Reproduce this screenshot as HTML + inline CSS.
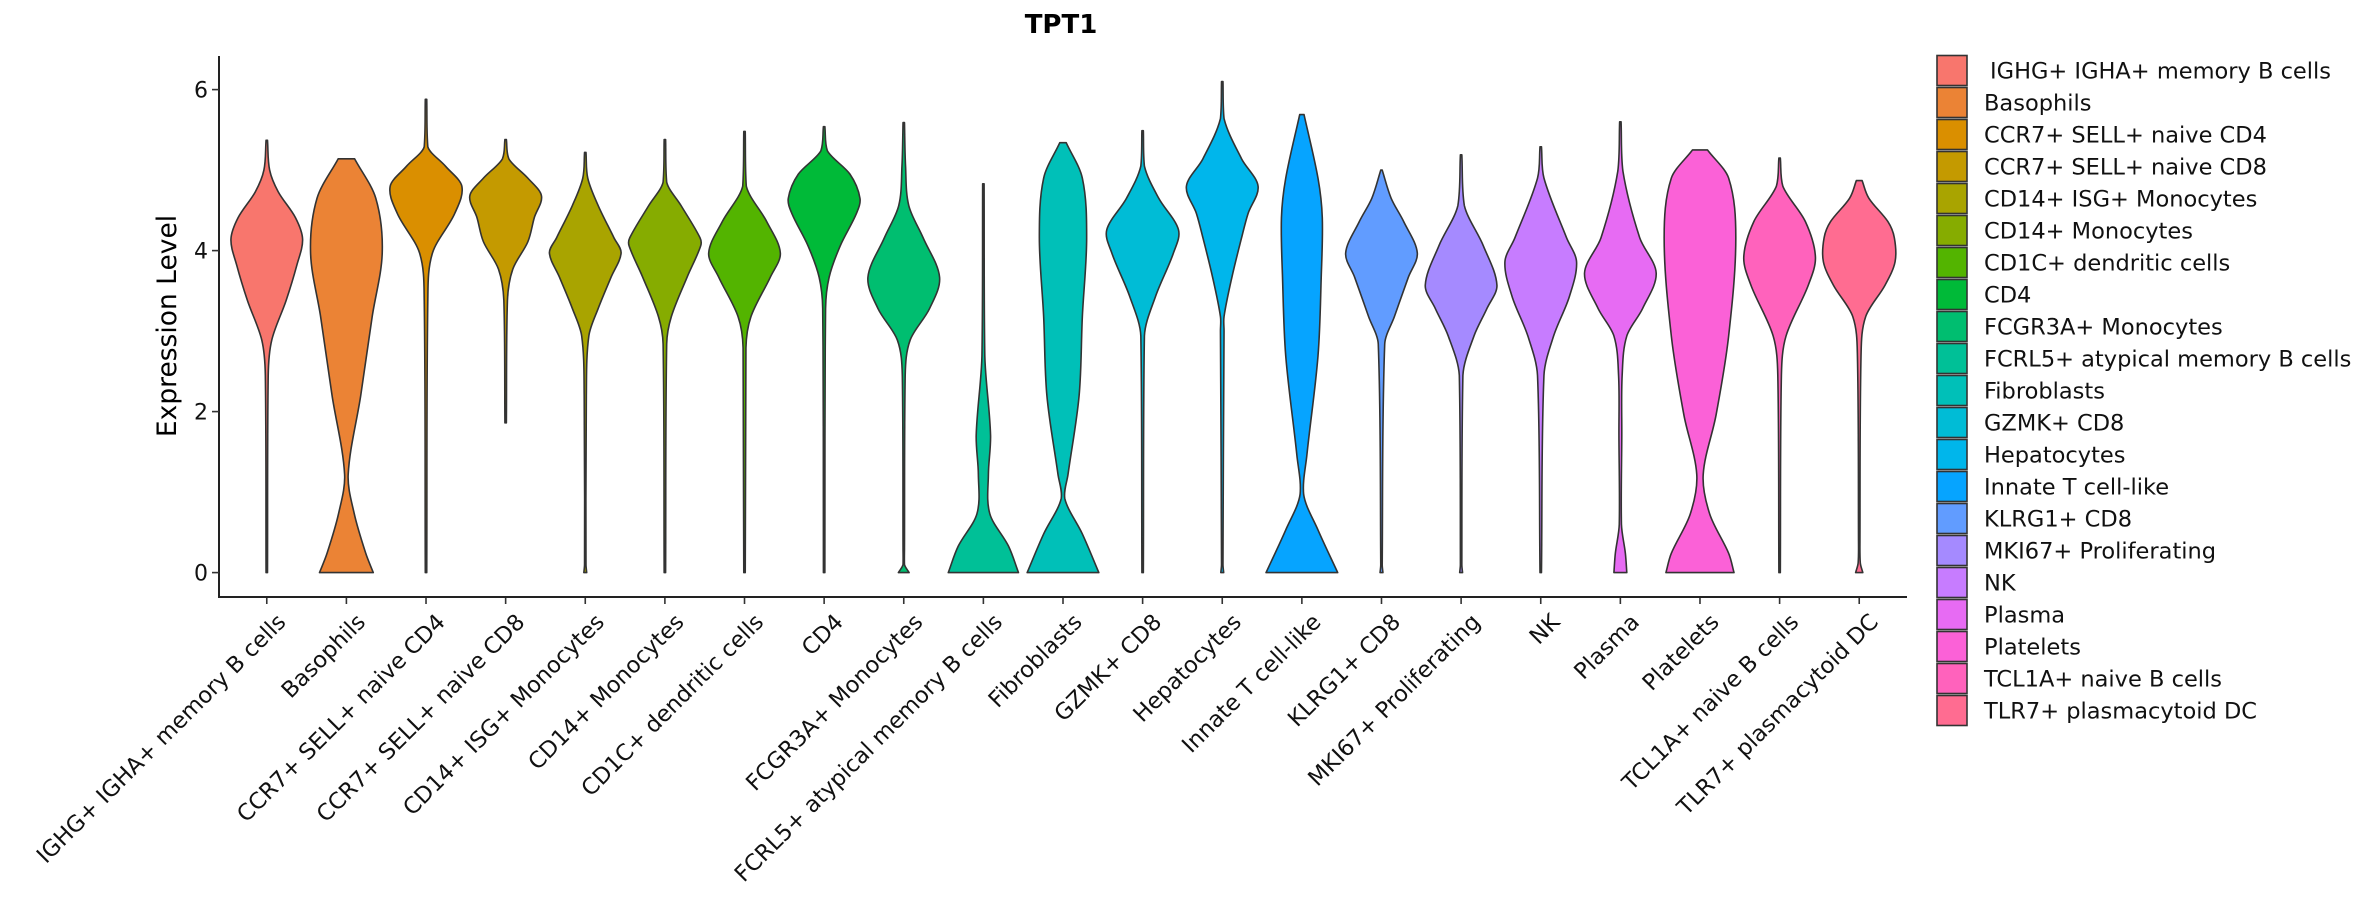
<!DOCTYPE html>
<html><head><meta charset="utf-8"><style>
html,body{margin:0;padding:0;background:#fff;}
svg{display:block;font-family:"DejaVu Sans","Liberation Sans",sans-serif;}
</style></head><body>
<svg id="chart" width="2362" height="900" viewBox="0 0 2362 900">
<text x="1061" y="33" text-anchor="middle" font-size="26" font-weight="bold">TPT1</text>
<text transform="translate(176,326) rotate(-90)" text-anchor="middle" font-size="26.5">Expression Level</text>
<g id="plot"></g>
<g id="legend"></g>
</svg>
<script>
const categories = ["IGHG+ IGHA+ memory B cells","Basophils","CCR7+ SELL+ naive CD4","CCR7+ SELL+ naive CD8","CD14+ ISG+ Monocytes","CD14+ Monocytes","CD1C+ dendritic cells","CD4","FCGR3A+ Monocytes","FCRL5+ atypical memory B cells","Fibroblasts","GZMK+ CD8","Hepatocytes","Innate T cell-like","KLRG1+ CD8","MKI67+ Proliferating","NK","Plasma","Platelets","TCL1A+ naive B cells","TLR7+ plasmacytoid DC"];
const colors = ["#F8766D","#EB8335","#DA8F00","#C49A00","#A9A400","#86AC00","#53B400","#00BA38","#00BE70","#00C097","#00C0B8","#00BCD6","#00B6EB","#06A4FF","#619CFF","#A58AFF","#C77CFF","#E76BF3","#FB61D7","#FF62BC","#FF6C91"];
const yTicks = [0,2,4,6];
// expression levels (knots) and relative densities for each violin
const violinY = [
 [0,2.45,2.89,3.38,3.82,4.14,4.41,4.73,5.0,5.37],
 [0,0.24,0.73,1.22,2.2,3.18,3.97,4.65,5.14],
 [0,3.38,3.97,4.46,4.8,5.05,5.29,5.88],
 [1.86,3.38,3.77,4.11,4.41,4.68,4.9,5.14,5.38],
 [0,0.1,2.2,2.94,3.28,3.67,3.97,4.16,4.56,4.9,5.22],
 [0,2.84,3.18,3.67,4.06,4.16,4.56,4.85,5.38],
 [0,2.79,3.18,3.67,3.97,4.36,4.8,5.48],
 [0,3.28,3.67,4.06,4.46,4.65,4.95,5.24,5.54],
 [0,0.1,0.3,2.45,2.89,3.28,3.67,4.16,4.56,5.05,5.59],
 [0,0.33,0.73,1.22,1.71,2.69,4.83],
 [0,0.48,0.92,1.22,2.2,3.18,4.16,4.9,5.34],
 [0,2.94,3.43,3.97,4.26,4.65,5.05,5.49],
 [0,0.1,3.0,3.18,3.67,4.16,4.46,4.8,5.14,5.64,6.1],
 [0,0.53,0.97,1.46,2.69,3.67,4.41,4.9,5.69],
 [0,0.1,2.84,3.18,3.67,3.97,4.36,4.65,5.0],
 [0,0.1,2.45,2.94,3.28,3.57,4.06,4.56,5.19],
 [0,2.45,2.94,3.43,3.86,4.16,4.9,5.29],
 [0,0.24,0.6,1.7,2.45,2.94,3.28,3.72,4.16,4.99,5.6],
 [0,0.24,0.73,1.22,1.96,2.94,4.16,4.9,5.25],
 [0,2.45,2.94,3.57,3.92,4.36,4.8,5.15],
 [0,0.12,0.4,2.69,3.18,3.57,3.86,4.16,4.36,4.65,4.87]
];
const violinW = [
 [0.02,0.04,0.14,0.54,0.84,1.0,0.8,0.32,0.08,0.02],
 [0.75,0.54,0.22,0.05,0.4,0.72,1.0,0.82,0.23],
 [0.02,0.05,0.18,0.8,1.0,0.54,0.05,0.02],
 [0.02,0.05,0.2,0.62,0.8,1.0,0.62,0.09,0.02],
 [0.04,0.02,0.03,0.1,0.36,0.72,1.0,0.8,0.36,0.07,0.02],
 [0.02,0.05,0.18,0.62,1.0,0.98,0.45,0.05,0.02],
 [0.02,0.04,0.18,0.72,1.0,0.62,0.05,0.02],
 [0.02,0.04,0.14,0.45,0.9,1.0,0.72,0.09,0.02],
 [0.15,0.02,0.02,0.04,0.18,0.72,1.0,0.54,0.14,0.05,0.02],
 [0.98,0.7,0.18,0.14,0.2,0.04,0.02],
 [1.0,0.54,0.05,0.14,0.45,0.54,0.66,0.54,0.09],
 [0.02,0.05,0.36,0.86,1.0,0.45,0.05,0.02],
 [0.04,0.02,0.05,0.05,0.27,0.54,0.72,1.0,0.54,0.05,0.02],
 [1.0,0.45,0.05,0.14,0.45,0.54,0.57,0.45,0.06],
 [0.04,0.02,0.09,0.36,0.75,1.0,0.62,0.27,0.02],
 [0.04,0.02,0.05,0.36,0.72,1.0,0.62,0.09,0.02],
 [0.02,0.09,0.36,0.8,1.0,0.72,0.09,0.02],
 [0.18,0.14,0.03,0.04,0.05,0.18,0.62,1.0,0.54,0.07,0.02],
 [0.95,0.8,0.27,0.09,0.45,0.8,1.0,0.8,0.21],
 [0.02,0.05,0.18,0.8,1.0,0.72,0.09,0.02],
 [0.1,0.03,0.02,0.05,0.18,0.72,1.0,0.98,0.8,0.27,0.08]
];
const NS="http://www.w3.org/2000/svg";
const X0=219, X1=1907, Y0=572.6, YUNIT=80.5, AXY=597, AXTOP=56;
const step=(X1-X0)/(categories.length-1+1.2);
function xScale(i){return X0+(i+0.6)*step;}
function yScale(v){return Y0-v*YUNIT;}
const halfMax=step*0.45;
const plot=document.getElementById('plot');
function mk(tag,attrs,parent){const e=document.createElementNS(NS,tag);for(const k in attrs)e.setAttribute(k,attrs[k]);parent.appendChild(e);return e;}
function crPath(pts,cx,sign,first){
 let d=first?`M${pts[0][0].toFixed(2)},${pts[0][1].toFixed(2)}`:'';
 const cl=x=>sign>0?Math.max(cx+0.5,x):Math.min(cx-0.5,x);
 for(let i=0;i<pts.length-1;i++){
  const p0=pts[Math.max(0,i-1)],p1=pts[i],p2=pts[i+1],p3=pts[Math.min(pts.length-1,i+2)];
  const dy=p2[1]-p1[1];
  const s1=(p2[0]-p0[0])/((p2[1]-p0[1])||1), s2=(p3[0]-p1[0])/((p3[1]-p1[1])||1);
  const c1=[cl(p1[0]+s1*dy/3),p1[1]+dy/3];
  const c2=[cl(p2[0]-s2*dy/3),p2[1]-dy/3];
  d+=` C${c1[0].toFixed(2)},${c1[1].toFixed(2)} ${c2[0].toFixed(2)},${c2[1].toFixed(2)} ${p2[0].toFixed(2)},${p2[1].toFixed(2)}`;
 }
 return d;
}
categories.forEach((c,i)=>{
 const cx=xScale(i), ys=violinY[i], ws=violinW[i];
 const right=ys.map((y,k)=>[cx+Math.max(0.5,ws[k]*halfMax),yScale(y)]);
 const left=ys.map((y,k)=>[cx-Math.max(0.5,ws[k]*halfMax),yScale(y)]).reverse();
 let d=crPath(right,cx,1,true);
 d+=` L${left[0][0].toFixed(2)},${left[0][1].toFixed(2)}`;
 d+=crPath(left,cx,-1,false);
 d+=' Z';
 const p=mk('path',{d:d,fill:colors[i],stroke:'#333','stroke-width':1.6,'stroke-linejoin':'round'},plot);
 
 
 const t=mk('line',{x1:cx,x2:cx,y1:AXY,y2:AXY+7,stroke:'#333','stroke-width':1.6},plot);
 
 
 const lb=mk('text',{transform:`translate(${cx+9},${AXY+15}) rotate(-45)`,'text-anchor':'end','font-size':22.5,'dominant-baseline':'hanging',fill:'#111'},plot);
 lb.textContent=c;
 
 
});
const ya=mk('line',{x1:X0,x2:X0,y1:AXTOP,y2:AXY,stroke:'#222','stroke-width':2},plot);


const xa=mk('line',{x1:X0-1,x2:X1,y1:AXY,y2:AXY,stroke:'#222','stroke-width':2},plot);


yTicks.forEach(v=>{
 const y=yScale(v);
 const tk=mk('line',{x1:X0-7,x2:X0,y1:y,y2:y,stroke:'#333','stroke-width':1.6},plot);
 
 
 const tl=mk('text',{x:X0-11,y:y+8,'text-anchor':'end','font-size':22,fill:'#111'},plot);
 tl.textContent=v;
 
 
});
const lg=document.getElementById('legend');
categories.forEach((c,i)=>{
 const y=54.5+i*32;
 const r=mk('rect',{x:1937,y:y+1,width:30,height:30,fill:colors[i],stroke:'#333','stroke-width':1.6},lg);
 
 
 const t=mk('text',{x:i===0?1990:1984,y:y+24,'font-size':22.5,fill:'#111'},lg);
 t.textContent=c;
 
 
});
</script>
</body></html>
